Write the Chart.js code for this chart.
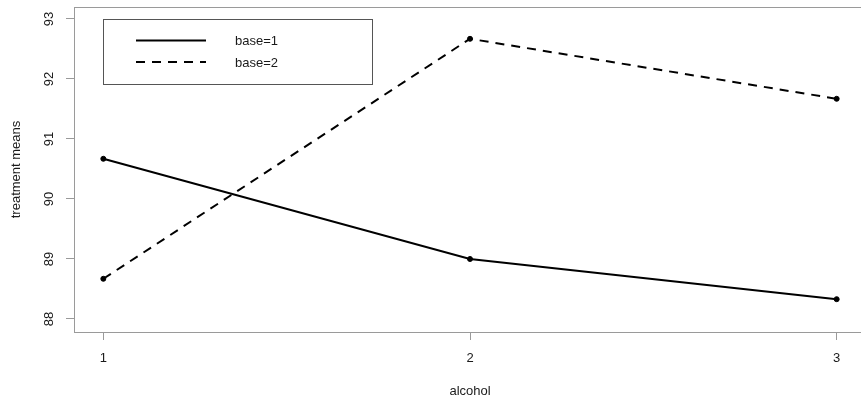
<!DOCTYPE html>
<html>
<head>
<meta charset="utf-8">
<script src="https://cdn.jsdelivr.net/npm/chart.js@4.4.0/dist/chart.umd.min.js"></script>
<style>
  html, body { margin: 0; padding: 0; background: #fff; }
  #wrap { width: 861px; height: 400px; overflow: hidden; position: relative; }
  canvas { display: block; }
</style>
</head>
<body>
<div id="wrap"><canvas id="c" width="880" height="400"></canvas></div>
<script>
// ---- data ----
const categories = [1, 2, 3];
const xTickLabels = ['1', '2', '3'];
const base1Means = [90.67, 89.00, 88.33];
const base2Means = [88.67, 92.67, 91.67];
const yTickValues = [88, 89, 90, 91, 92, 93];
const seriesNames = ['base=1', 'base=2'];
const xTitle = 'alcohol';
const yTitle = 'treatment means';

const FONT = '"Liberation Sans", Arial, sans-serif';
const TXT = '#1a1a1a';

function pts(vals) { return categories.map((c, i) => ({ x: c, y: vals[i] })); }

const framePlugin = {
  id: 'frame',
  afterDraw(chart) {
    const ctx = chart.ctx;
    const a = chart.chartArea;
    const ys = chart.scales.y;
    ctx.save();
    // plot box
    ctx.strokeStyle = '#9a9a9a';
    ctx.lineWidth = 1;
    ctx.strokeRect(Math.round(a.left) + 0.5, Math.round(a.top) + 0.5,
                   Math.round(a.right - a.left), Math.round(a.bottom - a.top));
    // y tick labels (rotated, R style)
    ctx.fillStyle = TXT;
    ctx.font = '13px ' + FONT;
    ctx.textAlign = 'center';
    ctx.textBaseline = 'middle';
    yTickValues.forEach(v => {
      const py = ys.getPixelForValue(v);
      ctx.save();
      ctx.translate(49, py);
      ctx.rotate(-Math.PI / 2);
      ctx.fillText(String(v), 0, 0);
      ctx.restore();
    });
    // axis titles
    ctx.save();
    ctx.translate(16, (a.top + a.bottom) / 2);
    ctx.rotate(-Math.PI / 2);
    ctx.fillText(yTitle, 0, 0);
    ctx.restore();
    ctx.textBaseline = 'alphabetic';
    ctx.fillText(xTitle, (a.left + a.right) / 2, 395);
    // legend
    const lx = 103, ly = 19, lw = 269, lh = 65;
    ctx.strokeStyle = '#555';
    ctx.strokeRect(lx + 0.5, ly + 0.5, lw, lh);
    const rows = [40.5, 62];
    chart.data.datasets.forEach((ds, i) => {
      ctx.beginPath();
      ctx.strokeStyle = '#000';
      ctx.lineWidth = 2;
      ctx.setLineDash(ds.borderDash || []);
      ctx.moveTo(136, rows[i]);
      ctx.lineTo(206, rows[i]);
      ctx.stroke();
      ctx.setLineDash([]);
      ctx.fillStyle = TXT;
      ctx.textAlign = 'left';
      ctx.textBaseline = 'middle';
      ctx.font = '13px ' + FONT;
      ctx.fillText(ds.label, 235, rows[i] + 1);
    });
    ctx.restore();
  }
};

new Chart(document.getElementById('c'), {
  type: 'line',
  data: {
    datasets: [
      { label: seriesNames[0], data: pts(base1Means), borderColor: '#000', backgroundColor: '#000',
        borderWidth: 2, pointRadius: 2.5, pointBorderWidth: 1, pointHoverRadius: 2.5, tension: 0, fill: false },
      { label: seriesNames[1], data: pts(base2Means), borderColor: '#000', backgroundColor: '#000',
        borderWidth: 2, borderDash: [9, 7], pointRadius: 2.5, pointBorderWidth: 1, pointHoverRadius: 2.5, tension: 0, fill: false }
    ]
  },
  options: {
    responsive: false,
    animation: false,
    devicePixelRatio: 1,
    layout: { padding: { left: 0, top: 7, right: 14, bottom: 0 } },
    plugins: { legend: { display: false }, tooltip: { enabled: false } },
    scales: {
      x: {
        type: 'linear', min: 0.92, max: 3.08,
        afterFit(s) { s.height = 68; },
        border: { display: false },
        grid: { drawOnChartArea: false, drawTicks: true, tickLength: 8, color: '#9a9a9a', tickColor: '#9a9a9a' },
        ticks: {
          stepSize: 1, includeBounds: false, autoSkip: false, maxRotation: 0,
          color: TXT, font: { family: FONT, size: 13 }, padding: 11,
          callback: v => { const i = categories.indexOf(v); return i >= 0 ? xTickLabels[i] : ''; }
        }
      },
      y: {
        type: 'linear', min: 87.783, max: 93.2,
        afterFit(s) { s.width = 74; },
        border: { display: false },
        grid: { drawOnChartArea: false, drawTicks: true, tickLength: 8, color: '#9a9a9a', tickColor: '#9a9a9a' },
        ticks: { stepSize: 1, includeBounds: false, display: false }
      }
    }
  },
  plugins: [framePlugin]
});
</script>
</body>
</html>
